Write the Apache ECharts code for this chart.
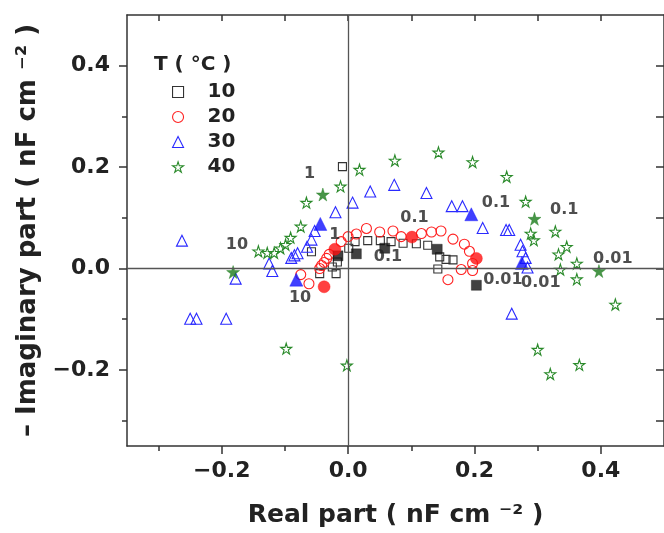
<!DOCTYPE html>
<html><head><meta charset="utf-8">
<script src="https://cdn.jsdelivr.net/npm/echarts@6/dist/echarts.min.js"></script>
<style>html,body{margin:0;padding:0;background:#fff}#c{width:664px;height:533px}</style>
</head><body><div id="c"></div>
<script>
// ---- data ----
const legendNames = ['10', '20', '30', '40'];
const t10Open = [[-0.009,0.201],[-0.058,0.033],[-0.045,-0.010],[-0.025,0.003],[-0.019,-0.010],[-0.017,0.013],[0.001,0.040],[0.011,0.053],[0.031,0.055],[0.051,0.055],[0.068,0.053],[0.087,0.050],[0.108,0.049],[0.126,0.046],[0.145,0.023],[0.155,0.018],[0.166,0.017],[0.142,-0.001]];
const t10Filled = [[-0.016,0.025],[0.013,0.029],[0.058,0.040],[0.141,0.038],[0.203,-0.033]];
const t20Open = [[-0.075,-0.012],[-0.062,-0.030],[-0.045,0.000],[-0.042,0.006],[-0.038,0.012],[-0.034,0.020],[-0.030,0.028],[-0.011,0.053],[0.000,0.063],[0.013,0.068],[0.029,0.079],[0.050,0.072],[0.071,0.074],[0.084,0.063],[0.116,0.069],[0.132,0.072],[0.147,0.074],[0.166,0.058],[0.184,0.048],[0.192,0.034],[0.197,0.010],[0.197,-0.004],[0.179,-0.002],[0.158,-0.022]];
const t20Filled = [[-0.021,0.038],[-0.038,-0.036],[0.101,0.062],[0.203,0.020]];
const t30Open = [[-0.263,0.055],[-0.250,-0.099],[-0.240,-0.099],[-0.193,-0.099],[-0.178,-0.020],[-0.125,0.010],[-0.120,-0.005],[-0.090,0.021],[-0.085,0.026],[-0.080,0.030],[-0.065,0.043],[-0.058,0.057],[-0.053,0.074],[-0.020,0.111],[0.007,0.130],[0.035,0.152],[0.073,0.165],[0.124,0.149],[0.164,0.123],[0.181,0.123],[0.213,0.080],[0.250,0.076],[0.255,0.076],[0.259,-0.089],[0.273,0.047],[0.276,0.034],[0.281,0.021],[0.284,0.002]];
const t30Filled = [[-0.082,-0.022],[-0.044,0.088],[0.195,0.107],[0.275,0.011]];
const t40Open = [[-0.142,0.034],[-0.128,0.031],[-0.117,0.031],[-0.107,0.040],[-0.099,0.047],[-0.091,0.061],[-0.075,0.083],[-0.066,0.130],[-0.012,0.162],[0.018,0.195],[0.074,0.213],[0.143,0.229],[0.197,0.210],[0.251,0.181],[0.281,0.132],[0.289,0.069],[0.294,0.056],[0.328,0.073],[0.346,0.043],[0.333,0.028],[0.336,-0.002],[0.362,0.010],[0.362,-0.021],[0.423,-0.071],[0.300,-0.160],[0.320,-0.208],[0.366,-0.190],[-0.098,-0.158],[-0.002,-0.191]];
const t40Filled = [[-0.182,-0.007],[-0.040,0.146],[0.295,0.098],[0.397,-0.005]];
const freqLabels = [[-0.061,0.186,'1'],[-0.176,0.046,'10'],[-0.021,0.066,'1'],[-0.076,-0.058,'10'],[0.105,0.100,'0.1'],[0.063,0.023,'0.1'],[0.234,0.129,'0.1'],[0.342,0.115,'0.1'],[0.245,-0.022,'0.01'],[0.305,-0.028,'0.01'],[0.419,0.020,'0.01']];
const xMajor = [-0.2, 0, 0.2, 0.4];
const xMinor = [-0.3, -0.1, 0.1, 0.3];
const yMajor = [-0.2, 0, 0.2, 0.4];
const yMinor = [-0.3, -0.1, 0.1, 0.3];
const xAll = [-0.3,-0.2,-0.1,0,0.1,0.2,0.3,0.4];
const yAll = [-0.3,-0.2,-0.1,0,0.1,0.2,0.3,0.4];

// ---- styles ----
const STAR = 'path://M50,0 L61,35 L98,35 L68,57 L79,91 L50,70 L21,91 L32,57 L2,35 L39,35 Z';
const colors = {'10':'#333333','20':'#ff2020','30':'#2a2aff','40':'#2a8a2a'};
const fillColors = {'10':'#111111','20':'#ff1010','30':'#1010ff','40':'#1a7a1a'};
const symbols = {'10':'rect','20':'circle','30':'triangle','40':STAR};
const sizes = {'10':8,'20':10,'30':11,'40':11};
const openData = {'10':t10Open,'20':t20Open,'30':t30Open,'40':t40Open};
const filledData = {'10':t10Filled,'20':t20Filled,'30':t30Filled,'40':t40Filled};
const FONT = 'DejaVu Sans';
const fmt = v => (v < 0 ? '\u2212' : '') + Math.abs(v).toFixed(1);
const lineC = '#333';

const series = [];
legendNames.forEach(n => {
  series.push({
    name: n, type: 'scatter', data: openData[n], symbol: symbols[n], symbolSize: sizes[n],
    itemStyle: {color: 'rgba(255,255,255,0)', borderColor: colors[n], borderWidth: 1.1, opacity: 1},
    z: 3
  });
});
legendNames.forEach(n => {
  series.push({
    name: n + ' marked', type: 'scatter', data: filledData[n], symbol: symbols[n],
    symbolSize: sizes[n] + 2,
    itemStyle: {color: fillColors[n], borderColor: fillColors[n], borderWidth: 0.5},
    z: 4
  });
});
series.push({
  name: 'labels', type: 'scatter', data: freqLabels, symbolSize: 0, silent: true,
  label: {show: true, position: 'inside', formatter: p => p.data[2],
    fontFamily: FONT, fontWeight: 'bold', fontSize: 16, color: '#222'},
  markLine: {silent: true, symbol: ['none','none'], animation: false,
    label: {show: false},
    lineStyle: {color: '#555', width: 1.3, type: 'solid'},
    data: [{xAxis: 0}, {yAxis: 0}]},
  z: 5
});

const legendData = legendNames.map(n => ({
  name: n, icon: symbols[n],
  itemStyle: {color: 'rgba(255,255,255,0)', borderColor: colors[n], borderWidth: 1.1}
}));

const baseAxis = {type: 'value', splitLine: {show: false}};
const option = {
  animation: false,
  backgroundColor: '#fff',
  grid: {left: 127, right: -4, top: 15, bottom: 82, containLabel: false},
  legend: {
    data: legendData, orient: 'vertical', left: 172, top: 80, itemWidth: 11, itemHeight: 11,
    itemGap: 1, padding: 0, selectedMode: false,
    textStyle: {fontFamily: FONT, fontSize: 20, fontWeight: 'bold', color: '#222', padding: [0,0,0,19], lineHeight: 24}
  },
  graphic: [{type: 'text', left: 154, top: 55,
    style: {text: 'T ( \u00B0C )', fontFamily: FONT, fontSize: 20, fontWeight: 'bold', fill: '#222'}}],
  xAxis: [
    Object.assign({}, baseAxis, {position: 'bottom', min: -0.35, max: 0.5,
      axisLine: {show: true, onZero: false, lineStyle: {color: lineC, width: 1.5}},
      axisTick: {show: true, customValues: xMajor, length: 8, lineStyle: {color: lineC, width: 1.5}},
      axisLabel: {show: true, customValues: xMajor, formatter: fmt, margin: 14,
        fontFamily: FONT, fontSize: 22, fontWeight: 'bold', color: '#222'},
      name: 'Real part ( nF cm \u207B\u00B2 )', nameLocation: 'middle', nameGap: 57,
      nameTextStyle: {fontFamily: FONT, fontSize: 25, fontWeight: 'bold', color: '#222'}}),
    Object.assign({}, baseAxis, {position: 'bottom', min: -0.35, max: 0.5,
      axisLine: {show: false, onZero: false},
      axisTick: {show: true, customValues: xMinor, length: 5, lineStyle: {color: lineC, width: 1.5}},
      axisLabel: {show: false}}),
    Object.assign({}, baseAxis, {position: 'top', min: -0.35, max: 0.5,
      axisLine: {show: true, onZero: false, lineStyle: {color: lineC, width: 1.5}},
      axisTick: {show: true, inside: true, customValues: xAll, length: 6, lineStyle: {color: lineC, width: 1.5}},
      axisLabel: {show: false}})
  ],
  yAxis: [
    Object.assign({}, baseAxis, {position: 'left', min: -0.35, max: 0.5,
      axisLine: {show: true, onZero: false, lineStyle: {color: lineC, width: 1.5}},
      axisTick: {show: true, customValues: yMajor, length: 8, lineStyle: {color: lineC, width: 1.5}},
      axisLabel: {show: true, customValues: yMajor, formatter: fmt, margin: 17,
        fontFamily: FONT, fontSize: 22, fontWeight: 'bold', color: '#222'},
      name: '\u2013 Imaginary part ( nF cm \u207B\u00B2 )', nameLocation: 'middle', nameGap: 84, nameRotate: 90,
      nameTextStyle: {fontFamily: FONT, fontSize: 26, fontWeight: 'bold', color: '#222'}}),
    Object.assign({}, baseAxis, {position: 'left', min: -0.35, max: 0.5,
      axisLine: {show: false, onZero: false},
      axisTick: {show: true, customValues: yMinor, length: 5, lineStyle: {color: lineC, width: 1.5}},
      axisLabel: {show: false}}),
    Object.assign({}, baseAxis, {position: 'right', min: -0.35, max: 0.5,
      axisLine: {show: true, onZero: false, lineStyle: {color: lineC, width: 1.5}},
      axisTick: {show: true, inside: true, customValues: yAll, length: 8, lineStyle: {color: lineC, width: 1.5}},
      axisLabel: {show: false}})
  ],
  series: series
};
const chart = echarts.init(document.getElementById('c'), null, {renderer: 'canvas'});
chart.setOption(option);
</script></body></html>
